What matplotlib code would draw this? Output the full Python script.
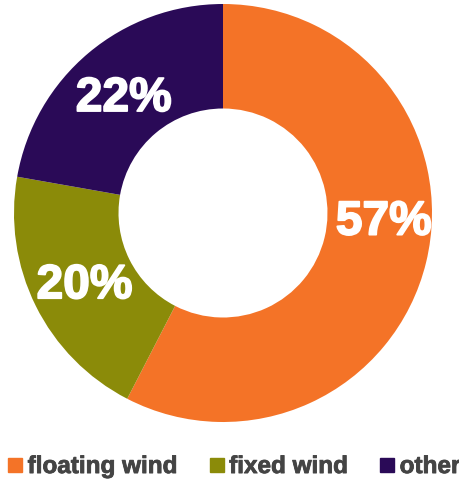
import numpy as np
import matplotlib.pyplot as plt
import matplotlib.patheffects as pe
from matplotlib.lines import Line2D

# Shares of the total
labels = ["floating wind", "fixed wind", "other"]
shares = [57, 20, 22]
pct_labels = ["57%", "20%", "22%"]
colors = ["#F47327", "#8B8B09", "#2A0A57"]

plt.rcParams["font.family"] = ["Liberation Sans", "DejaVu Sans"]

fig = plt.figure(figsize=(4.6, 4.79), dpi=100)
ax = fig.add_axes([14 / 460, 57 / 479, 418 / 460, 418 / 479])

wedges, texts = ax.pie(
    shares,
    colors=colors,
    startangle=90,
    counterclock=False,
    radius=1.0,
    wedgeprops=dict(width=0.5, linewidth=0),
)
ax.set_aspect("equal")
ax.set_xlim(-1, 1)
ax.set_ylim(-1, 1)

# percentage labels in the middle of the ring (the big one sits a bit higher)
label_r = 0.74
nudge = {"57%": (0.05, 0.15)}
for w, txt in zip(wedges, pct_labels):
    mid = np.deg2rad((w.theta1 + w.theta2) / 2)
    x, y = label_r * np.cos(mid), label_r * np.sin(mid)
    dx, dy = nudge.get(txt, (0, 0))
    ax.text(x + dx, y + dy - 0.079, txt, ha="center", va="baseline",
            color="white", fontsize=34.5, fontweight="bold",
            path_effects=[pe.withStroke(linewidth=1.3, foreground="white")])

handles = [Line2D([], [], marker="s", linestyle="none", markersize=10,
                  markerfacecolor=c, markeredgecolor=c) for c in colors]
leg = fig.legend(handles, labels, loc="lower left", ncol=3,
                 bbox_to_anchor=(4.5 / 460, 0.002), frameon=False,
                 borderpad=0, borderaxespad=0,
                 handletextpad=0.05, columnspacing=1.17, handlelength=0.9,
                 prop=dict(size=17.5, weight="bold"))
for t in leg.get_texts():
    t.set_color("#444444")
    t.set_path_effects([pe.withStroke(linewidth=0.6, foreground="#444444")])

fig.savefig("out.png", dpi=100)
